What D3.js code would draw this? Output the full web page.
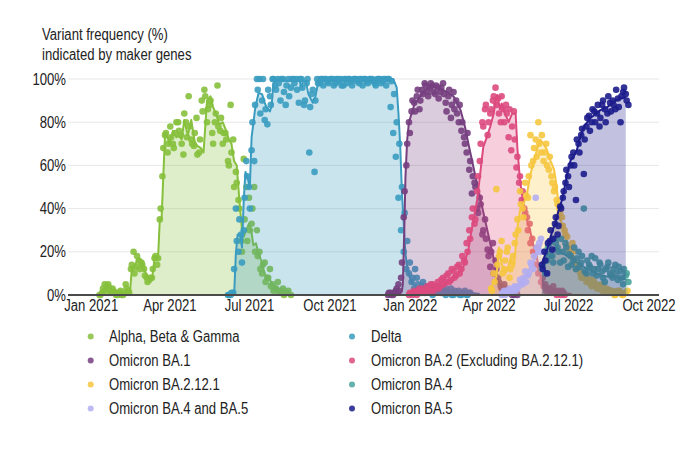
<!DOCTYPE html>
<html><head><meta charset="utf-8">
<script src="https://cdn.jsdelivr.net/npm/d3@7"></script>
<style>body{margin:0;background:#fff}svg{display:block}</style>
</head><body>
<svg id="chart" width="700" height="451"></svg>
<script>
// ---------- DATA ----------
const seriesNames = ["Alpha, Beta & Gamma","Delta","Omicron BA.1","Omicron BA.2 (Excluding BA.2.12.1)","Omicron BA.2.12.1","Omicron BA.4","Omicron BA.4 and BA.5","Omicron BA.5"];
const seriesColors = ["#86c03c","#3a9cc0","#763f80","#dc4a7e","#f6c640","#4aa39c","#b3aef2","#1c1c8c"];
const yTicks = [0,20,40,60,80,100];
const titleLines = ["Variant frequency (%)","indicated by maker genes"];
const dotStepDays = 3;

// smoothed lines: [date, %]
const alphaLine = [["2021-01-11",0],["2021-01-19",3],["2021-01-23",4.5],["2021-01-26",3],["2021-01-30",2],["2021-02-03",1],["2021-02-09",0.5],["2021-02-11",2],["2021-02-15",2],["2021-02-17",12],["2021-02-20",13],["2021-02-24",17],["2021-02-28",16],["2021-03-04",11],["2021-03-08",7],["2021-03-12",7],["2021-03-15",17],["2021-03-19",17],["2021-03-21",35],["2021-03-23",35],["2021-03-25",55],["2021-03-27",74],["2021-03-30",73],["2021-04-01",70],["2021-04-05",76],["2021-04-09",73],["2021-04-12",74],["2021-04-15",72],["2021-04-18",81],["2021-04-22",74],["2021-04-26",81],["2021-04-30",71],["2021-05-03",69],["2021-05-07",68],["2021-05-10",66],["2021-05-14",90],["2021-05-18",92],["2021-05-21",87],["2021-05-25",83],["2021-05-28",79],["2021-06-01",80],["2021-06-05",76],["2021-06-08",72],["2021-06-11",70],["2021-06-14",62],["2021-06-17",60],["2021-06-20",44],["2021-06-23",30],["2021-06-25",27],["2021-06-28",30],["2021-07-01",33],["2021-07-04",29],["2021-07-06",23],["2021-07-09",24],["2021-07-12",19],["2021-07-15",16],["2021-07-17",13],["2021-07-19",10],["2021-07-21",8.5],["2021-07-25",7],["2021-07-29",4],["2021-08-02",2],["2021-08-09",0.5],["2021-08-15",0]];
const deltaLine = [["2021-06-14",0],["2021-06-16",19],["2021-06-18",28],["2021-06-21",28],["2021-06-23",22],["2021-06-25",44],["2021-06-27",57],["2021-06-29",55],["2021-07-02",50],["2021-07-04",73],["2021-07-08",86],["2021-07-10",90],["2021-07-12",93.5],["2021-07-16",93],["2021-07-19",89],["2021-07-21",87],["2021-07-25",85],["2021-07-27",88],["2021-07-29",98],["2021-08-03",100],["2021-08-14",99],["2021-08-21",100],["2021-08-28",99],["2021-08-30",96],["2021-09-01",99.5],["2021-09-04",99],["2021-09-07",93],["2021-09-12",89],["2021-09-15",92],["2021-09-18",98],["2021-09-24",100],["2021-10-08",100],["2021-10-28",99.5],["2021-11-17",100],["2021-12-02",99.5],["2021-12-13",100],["2021-12-17",96],["2021-12-19",84],["2021-12-21",69],["2021-12-23",47],["2021-12-25",33],["2021-12-27",19],["2021-12-29",13],["2022-01-01",8],["2022-01-05",5],["2022-01-11",3],["2022-01-17",2],["2022-01-24",1.5],["2022-02-05",2],["2022-02-16",2],["2022-02-27",1],["2022-03-11",1],["2022-03-22",0.5]];
const ba1Line = [["2021-12-07",0],["2021-12-17",0.5],["2021-12-21",1],["2021-12-23",2],["2021-12-24",5],["2021-12-25",20],["2021-12-26",36],["2021-12-27",55],["2021-12-29",72],["2021-12-31",80],["2022-01-03",84],["2022-01-06",88],["2022-01-13",92],["2022-01-20",95.5],["2022-01-28",96.4],["2022-02-05",95.7],["2022-02-12",94],["2022-02-20",92],["2022-02-28",85.6],["2022-03-05",78],["2022-03-09",70],["2022-03-13",62.5],["2022-03-17",55],["2022-03-23",44],["2022-03-28",34.7],["2022-04-03",24],["2022-04-09",13],["2022-04-13",5.4],["2022-04-16",2],["2022-04-24",1],["2022-05-06",0.5]];
const ba2Line = [["2022-01-01",1],["2022-01-24",2],["2022-02-05",3],["2022-02-12",5.5],["2022-02-23",8.5],["2022-03-03",13],["2022-03-09",21],["2022-03-12",28.5],["2022-03-19",44],["2022-03-23",58],["2022-03-26",68.6],["2022-03-30",73],["2022-04-03",78],["2022-04-07",84],["2022-04-09",90],["2022-04-11",92.6],["2022-04-14",86],["2022-04-16",88.7],["2022-04-20",84],["2022-04-24",80],["2022-04-28",84],["2022-05-02",84],["2022-05-04",68],["2022-05-07",53],["2022-05-11",42],["2022-05-15",35],["2022-05-19",29],["2022-05-23",22],["2022-05-27",16],["2022-05-30",10],["2022-06-03",4],["2022-06-11",2],["2022-06-22",1],["2022-07-05",0.5]];
const ba2121Line = [["2022-04-01",2],["2022-04-06",5],["2022-04-10",8.5],["2022-04-13",22],["2022-04-16",14.7],["2022-04-20",10],["2022-04-23",12],["2022-04-26",17],["2022-04-30",13],["2022-05-04",31],["2022-05-07",39],["2022-05-11",42],["2022-05-15",47],["2022-05-19",56],["2022-05-23",62],["2022-05-27",68],["2022-05-30",72],["2022-06-03",70],["2022-06-07",67],["2022-06-11",62],["2022-06-15",58],["2022-06-18",50],["2022-06-20",42],["2022-06-22",35],["2022-06-26",31],["2022-06-30",24],["2022-07-04",22],["2022-07-08",17],["2022-07-15",12],["2022-07-23",9],["2022-07-30",7],["2022-08-07",5],["2022-08-19",3],["2022-08-30",2],["2022-09-07",1]];
const ba4Line = [["2022-06-01",13],["2022-06-05",17],["2022-06-09",20],["2022-06-13",21],["2022-06-18",22],["2022-06-22",20],["2022-06-26",19],["2022-06-30",18],["2022-07-05",17],["2022-07-11",15],["2022-07-15",14.5],["2022-07-19",13],["2022-07-26",11.5],["2022-08-03",10],["2022-08-09",9],["2022-08-15",8.5],["2022-08-21",9],["2022-08-26",8.5],["2022-09-02",7.5],["2022-09-07",7]];
const ba45Line = [["2022-04-16",1],["2022-04-24",2],["2022-05-01",3],["2022-05-07",5.5],["2022-05-15",10],["2022-05-19",13],["2022-05-23",16],["2022-05-27",19],["2022-05-30",22],["2022-06-01",24.7]];
const ba5Line = [["2022-06-01",14.7],["2022-06-07",21],["2022-06-11",27],["2022-06-16",33],["2022-06-20",39],["2022-06-24",44],["2022-06-28",51.7],["2022-06-30",56],["2022-07-04",62.5],["2022-07-07",64],["2022-07-11",67],["2022-07-15",73],["2022-07-19",78],["2022-07-23",80],["2022-07-26",81.8],["2022-07-30",83],["2022-08-07",85.6],["2022-08-15",87],["2022-08-22",89.5],["2022-08-30",91],["2022-09-05",91.8]];

// observations: two sample sets per variant, every 3rd day from a start date
const alphaDotStartA = "2021-01-11";
const alphaDotsA = [0,1,5,4,2,3,1,0,2,0,5,2,12,20,13,16,15,12,8,7,8,17,14,35,55,74,66,78,70,75,80,74,65,80,92,72,69,82,66,90,95,80,88,75,80,97,76,70,75,62,88,72,57,44,25,63,50,45,33,50,30,20,10,15,8,12,5,3,6,2,3,1,2,0];
const alphaDotStartB = "2021-01-12";
const alphaDotsB = [0,3,2,5,1,2,0,1,0,1,3,1,14,10,18,12,14,9,6,8,12,18,17,40,68,75,70,73,68,80,76,70,84,73,78,70,75,65,72,85,92,86,90,70,84,78,82,75,72,60,66,50,52,40,20,35,25,30,40,20,18,12,14,6,8,4,2,3,1,2,0,1];
const deltaDotStartA = "2021-06-07";
const deltaDotsA = [0,0,1,40,20,28,30,62,50,67,62,100,100,90,81,79,92,100,97,100,90,100,88,100,96,100,100,89,100,88,98,66,93,57,100,98,100,100,99,100,100,98,100,100,97,100,100,99,100,100,98,100,100,99,100,100,98,100,100,99,100,100,87,75,64,45,30,20,12,10,6,3,8,2,4,1,3,2,0,1,3,1,2,0,1,3,0,1,2,0,1,0,1];
const deltaDotStartB = "2021-06-08";
const deltaDotsB = [0,1,12,25,35,15,45,55,40,80,88,95,84,100,86,95,88,100,95,98,100,94,97,92,100,98,95,100,96,90,100,87,95,90,98,100,97,100,98,100,97,100,99,97,100,98,100,97,100,99,100,97,100,98,100,99,97,100,98,100,97,100,99,93,80,70,50,38,25,15,8,12,5,3,6,2,4,1,3,2,4,1,2,3,1,0,2,1,0,1,2,0,1];
const ba1DotStartA = "2021-12-07";
const ba1DotsA = [0,1,0,2,5,8,36,60,80,85,89,92,86,95,98,94,96,97,93,96,94,98,89,92,82,94,90,80,76,73,66,58,47,52,40,45,28,35,21,13,24,16,8,4,2,3,1,2,0,1];
const ba1DotStartB = "2021-12-08";
const ba1DotsB = [1,0,1,3,2,15,48,70,75,90,85,95,90,93,97,92,98,94,97,91,96,93,85,95,88,86,84,88,80,70,75,62,55,50,38,42,30,26,18,20,10,12,6,3,5,2,1,0,2,0];
const ba2DotStartA = "2021-12-31";
const ba2DotsA = [0,1,2,0,3,1,2,4,2,5,3,6,4,8,6,10,7,11,9,14,12,16,24,30,36,33,48,62,80,86,74,84,90,96,91,80,86,88,73,67,85,59,52,44,40,36,33,26,18,22,12,8,5,3,2,4,1,2,0,1];
const ba2DotStartB = "2022-01-01";
const ba2DotsB = [1,0,1,2,1,3,1,3,5,2,4,3,7,5,9,6,12,8,13,10,18,15,20,26,40,35,55,70,78,88,80,86,92,88,84,92,80,84,86,78,72,64,55,48,38,30,24,20,14,10,6,4,2,3,1,2,0,1,2,0];
const ba2121DotStartA = "2022-04-04";
const ba2121DotsA = [3,10,49,18,25,12,20,8,15,24,35,48,40,52,45,74,62,72,80,66,62,70,58,55,48,44,40,36,30,27,20,24,15,13,10,8,9,6,5,7,4,3,5,2,3,1,2,0,1,2,0,1,2];
const ba2121DotStartB = "2022-04-05";
const ba2121DotsB = [2,6,14,20,10,16,22,12,18,28,30,42,36,46,55,60,68,64,70,74,66,60,64,52,50,42,38,32,28,22,18,20,12,14,8,10,6,7,4,5,3,4,2,3,1,2,1,0,2,1,0,1];
const ba4DotStartA = "2022-06-01";
const ba4DotsA = [12,20,16,24,18,26,22,15,20,24,13,18,16,12,20,15,40,10,14,18,12,9,15,11,6,13,10,8,14,7,11,5,9,6];
const ba4DotStartB = "2022-06-02";
const ba4DotsB = [14,10,22,18,15,24,20,26,16,22,19,14,22,17,13,18,11,16,13,10,17,12,14,8,12,15,9,12,10,13,8,12,10];
const ba45DotStartA = "2022-04-16";
const ba45DotsA = [0,2,1,3,2,4,3,7,5,11,9,15,12,45,20,26];
const ba45DotStartB = "2022-04-17";
const ba45DotsB = [1,0,2,1,3,2,4,5,8,6,10,14,18,22,24,20];
const ba5DotStartA = "2022-06-01";
const ba5DotsA = [14,20,10,25,21,33,28,41,45,52,55,60,66,44,70,74,56,78,83,80,85,84,78,88,86,84,89,90,86,91,80,94,93,88];
const ba5DotStartB = "2022-06-02";
const ba5DotsB = [12,16,24,30,26,36,32,40,48,58,50,64,60,72,66,77,72,82,76,86,80,88,82,90,80,92,85,88,95,87,92,96,90];

// ---------- BUILD ----------
const parse = d3.utcParse("%Y-%m-%d");
const lineSets = [alphaLine, deltaLine, ba1Line, ba2Line, ba2121Line, ba4Line, ba45Line, ba5Line];
const dotSets = [
  [[alphaDotStartA, alphaDotsA], [alphaDotStartB, alphaDotsB]],
  [[deltaDotStartA, deltaDotsA], [deltaDotStartB, deltaDotsB]],
  [[ba1DotStartA, ba1DotsA], [ba1DotStartB, ba1DotsB]],
  [[ba2DotStartA, ba2DotsA], [ba2DotStartB, ba2DotsB]],
  [[ba2121DotStartA, ba2121DotsA], [ba2121DotStartB, ba2121DotsB]],
  [[ba4DotStartA, ba4DotsA], [ba4DotStartB, ba4DotsB]],
  [[ba45DotStartA, ba45DotsA], [ba45DotStartB, ba45DotsB]],
  [[ba5DotStartA, ba5DotsA], [ba5DotStartB, ba5DotsB]]
];

const svg = d3.select("#chart");
const x = d3.scaleUtc().domain([parse("2020-12-06"), parse("2022-10-13")]).range([68, 659]);
const y = d3.scaleLinear().domain([0, 100]).range([295, 79]);

const FONT = "'Liberation Sans',Arial,sans-serif", FS = 16, SX = 0.82;
function narrow(sel) {
  sel.attr("font-family", FONT).attr("font-size", FS).attr("fill", "#222")
    .attr("transform", function () {
      const x0 = +(this.getAttribute("x") || 0);
      return `translate(${x0},0) scale(${SX},1) translate(${-x0},0)`;
    });
}

// gridlines
svg.append("g").selectAll("line").data(yTicks.filter(t => t > 0)).join("line")
  .attr("x1", 68).attr("x2", 659).attr("y1", d => y(d)).attr("y2", d => y(d))
  .attr("stroke", "#e7e7e7").attr("stroke-width", 1);

// series
const area = d3.area().x(d => x(d[0])).y0(y(0)).y1(d => y(d[1]));
const line = d3.line().x(d => x(d[0])).y(d => y(d[1]));
seriesNames.forEach((name, i) => {
  const col = seriesColors[i];
  const pts = lineSets[i].map(d => [parse(d[0]), d[1]]);
  const dots = dotSets[i].flatMap(([s, vals]) => {
    const start = parse(s);
    return vals.map((v, k) => [d3.utcDay.offset(start, k * dotStepDays), v]);
  });
  const g = svg.append("g").attr("class", "series");
  g.append("path").datum(pts).attr("d", area).attr("fill", col).attr("fill-opacity", 0.27);
  g.selectAll("circle").data(dots).join("circle")
    .attr("cx", d => x(d[0])).attr("cy", d => y(d[1])).attr("r", 3.3)
    .attr("fill", col).attr("fill-opacity", 0.9);
  g.append("path").datum(pts).attr("d", line).attr("fill", "none")
    .attr("stroke", col).attr("stroke-width", 2).attr("stroke-linejoin", "round");
});

// axes
const yAxis = svg.append("g").attr("transform", "translate(68,0)")
  .call(d3.axisLeft(y).tickValues(yTicks).tickSize(0).tickPadding(2).tickFormat(d => d + "%"));
yAxis.select(".domain").remove();
const xAxis = svg.append("g").attr("transform", "translate(0,295)")
  .call(d3.axisBottom(x).ticks(d3.utcMonth.every(3)).tickSize(0).tickPadding(5).tickFormat(d3.utcFormat("%b %Y")));
xAxis.select(".domain").remove();
svg.append("line").attr("x1", 68).attr("x2", 659).attr("y1", y(0)).attr("y2", y(0))
  .attr("stroke", "#4a4a4a").attr("stroke-width", 2);
svg.selectAll(".tick text").call(narrow);

// title
svg.append("g").selectAll("text").data(titleLines).join("text")
  .attr("x", 42).attr("y", (d, i) => 40 + i * 20.5).text(d => d).call(narrow);

// legend
const lg = svg.append("g").selectAll("g").data(seriesNames).join("g")
  .attr("transform", (d, i) => `translate(${i % 2 ? 352 : 90.7},${336.5 + Math.floor(i / 2) * 24})`);
lg.append("circle").attr("r", 3).attr("fill", (d, i) => seriesColors[i]).attr("fill-opacity", 0.85);
lg.append("text").attr("x", (d, i) => i % 2 ? 19 : 18.3).attr("dy", "0.35em").text(d => d).call(narrow);
</script>
</body></html>
